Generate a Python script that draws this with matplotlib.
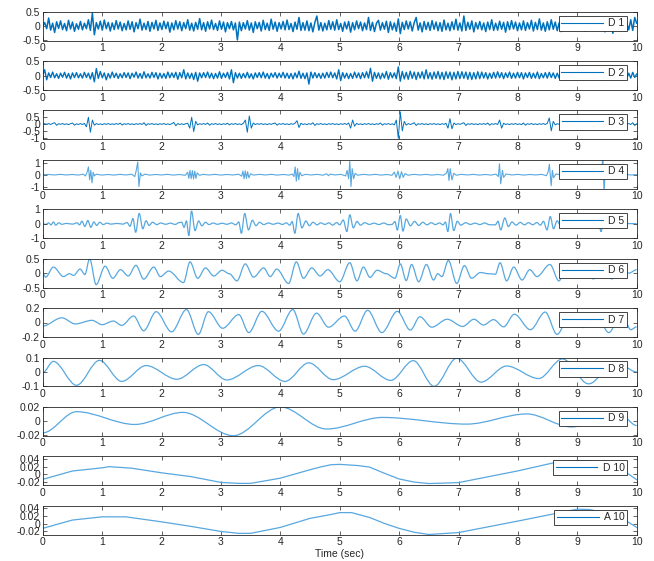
"""Wavelet detail levels D1..D10 and approximation A10 of a 10 s record."""
import numpy as np
import matplotlib
matplotlib.use("Agg")
import matplotlib.pyplot as plt
from matplotlib.path import Path
from matplotlib.patches import PathPatch
from matplotlib.lines import Line2D

# ---- data ---------------------------------------------------------------
# D1..D3: 300 samples over 0..10 s, values in hundredths
D1_CENTI = [
    0, 12, -9, 28, -14, 10, -22, 15, -8, 18, -12, 9, -16, 20, -10, 14, -18, 8, -11, 16,
    -13, 10, -9, 22, -15, 45, -30, 12, -10, 17, -14, 21, -9, 13, -17, 11, -12, 19, -10, 14,
    -16, 9, -13, 18, -11, 15, -20, 12, -9, 24, -14, 10, -12, 16, -18, 13, -10, 20, -15, 11,
    -12, 17, -9, 14, -21, 11, -13, 19, -10, 15, -16, 12, -9, 22, -14, 10, -17, 13, -11, 26,
    -13, 12, -18, 15, -10, 21, -12, 9, -15, 18, -11, 14, -20, 12, -9, 16, -13, 11, -48, 14,
    -16, 12, -10, 19, -14, 11, -22, 15, -9, 13, -17, 20, -12, 10, -15, 24, -11, 14, -18, 12,
    -10, 16, -13, 21, -12, 9, -19, 14, -11, 30, -15, 12, -14, 18, -16, 11, -20, 13, 35, -14,
    12, -17, 10, -13, 19, -11, 15, -14, 22, -12, 9, -18, 14, -10, 16, -21, 12, -13, 18, -9,
    14, -16, 11, -12, 30, -15, 13, -19, 10, 20, -14, 12, -11, 17, -22, 15, -13, 11, -18, 25,
    -26, 13, -12, 18, -10, 15, -17, 12, 30, -14, 11, -20, 16, -12, 13, -15, 19, -11, 14, -16,
    12, -18, 21, -13, 10, -16, 15, -12, 24, -14, 11, -17, 35, -15, 13, -11, 18, -20, 12, -10,
    16, -13, 11, -19, 14, -12, 22, -15, 10, -14, 17, -11, 13, -21, 15, -12, 19, -10, 14, -16,
    11, -13, 18, -15, 12, -10, 20, -17, 13, -12, 25, -14, 11, -18, 15, -13, 22, -11, 14, -16,
    12, -19, 13, -11, 17, -14, 10, -16, 21, -12, 15, -13, 11, -18, 14, -12, 20, -10, 13, -15,
    17, -11, 14, -20, 12, -16, 13, -25, 10, -14, 18, -12, 15, -17, 11, -13, 22, -15, 30, 10,
]
D2_CENTI = [
    0, 20, -15, 9, -7, 12, -8, 6, -10, 8, -6, 11, -9, 7, -12, 9, -7, 10, -8, 6,
    -9, 11, -7, 8, -12, 10, -22, 24, -10, 14, -8, 9, -15, 7, -9, 12, -7, 8, -10, 6,
    -8, 10, -7, 9, -11, 8, -6, 12, -9, 7, -10, 13, -8, 6, -9, 11, -7, 10, -12, 8,
    -9, 7, -10, 12, -8, 9, -7, 11, -13, 10, -8, 20, -12, 9, -10, 8, -14, 11, -20, 9,
    -8, 10, -7, 12, -9, 8, -11, 7, -9, 13, -10, 8, -7, 11, -12, 20, -25, 10, -9, 8,
    -10, 7, -8, 11, -9, 6, -12, 9, -7, 10, -8, 12, -9, 7, -11, 8, -6, 10, -9, 8,
    -7, 11, -9, 8, -10, 7, -12, 9, -8, 15, -10, 8, -11, 9, -30, 12, -9, 10, -8, 7,
    -10, 8, -9, 11, -7, 12, -8, 9, -12, 20, -18, 10, -9, 8, -11, 7, -10, 12, -8, 9,
    -11, 10, -8, 13, -9, 25, -20, 11, -10, 9, -12, 8, -9, 14, -13, 10, -8, 9, -11, 30,
    -20, 14, -12, 11, -13, 15, -10, 12, -14, 11, -9, 13, -12, 20, -11, 10, -13, 12, -10, 14,
    -12, 11, -14, 13, -10, 12, -15, 11, -12, 14, -11, 13, -10, 12, -13, 11, -14, 10, -12, 13,
    -11, 12, -9, 10, -12, 8, -10, 11, -9, 13, -8, 10, -11, 9, -7, 12, -10, 8, -9, 11,
    -8, 10, -12, 9, -7, 11, -10, 8, -9, 12, -11, 7, -8, 10, -9, 11, -7, 9, -10, 8,
    -9, 7, -8, 10, -6, 9, -8, 7, -10, 8, -7, 9, -6, 8, -9, 7, -8, 10, -7, 9,
    -8, 12, -15, 9, -7, 8, -10, 7, -9, 8, -6, 9, -8, 7, -10, 8, -9, 11, -7, 5,
]
D3_CENTI = [
    0, 3, -2, 4, -3, 5, 10, -9, 3, -2, 4, -3, 2, -4, 3, 8, -8, 2, -3, 4,
    -3, 5, -20, 50, -60, 30, -8, 4, -3, 2, -4, 3, -2, 4, -3, 2, -3, 4, -2, 7,
    -7, 3, -2, 4, -3, 2, -4, 3, -2, 4, -3, 10, -10, 3, -2, 4, -3, 2, -4, 3,
    -2, 4, -3, 2, -4, 3, 12, -12, 4, -3, 2, -4, 3, 6, -30, 50, -55, 20, -6, 3,
    -2, 4, -3, 8, -8, 3, -2, 4, -3, 2, -4, 3, -2, 6, -6, 3, -2, 4, -3, 2,
    -4, 6, 30, -60, 60, -30, 8, -4, 3, -2, 4, -3, 2, -4, 3, -2, 4, 8, -8, 3,
    -2, 4, -3, 2, -4, 3, -2, 6, 25, -25, 6, -3, 2, -4, 3, -2, 10, -10, 3, -2,
    4, -3, 2, -4, 3, -2, 4, -3, 2, -4, 3, -2, 4, -3, 8, -30, 30, -15, 5, -3,
    2, -4, 3, -2, 4, -3, 2, -4, 3, -2, 8, -8, 3, -2, 4, -3, 2, -6, 30, -105,
    90, -50, 20, -8, 4, -3, 2, 10, -10, 3, -2, 4, -3, 2, -4, 3, -2, 4, -3, 2,
    -4, 3, -2, 6, -30, 40, -35, 8, -4, 3, -2, 4, 10, -10, 3, -2, 4, -3, 2, -4,
    3, -2, 4, -3, 8, -8, 3, -2, 4, -3, 30, -30, 6, -3, 2, -4, 3, -2, 4, -3,
    2, -4, 8, -8, 3, -2, 4, -3, 2, -4, 3, -2, 4, -3, 6, 45, -50, 20, -6, 3,
    -2, 4, -3, 2, -4, 3, -2, 4, -3, 2, -4, 3, -2, 4, -3, 2, -4, 3, -2, 4,
    -6, 40, -40, 8, -3, 2, -4, 3, -2, 4, -3, 2, -4, 3, -2, 4, -3, 10, -10, 2,
]

# D4: knots (time, value)
D4_T = [0.00, 0.10, 0.20, 0.30, 0.40, 0.50, 0.60, 0.68, 0.72, 0.75, 0.77, 0.79, 0.81,
        0.83, 0.85, 0.87, 0.90, 1.00, 1.10, 1.20, 1.30, 1.40, 1.50, 1.55, 1.575, 1.60,
        1.62, 1.645, 1.67, 1.72, 1.80, 1.90, 2.00, 2.10, 2.20, 2.30, 2.40, 2.44, 2.46,
        2.48, 2.50, 2.52, 2.54, 2.56, 2.58, 2.60, 2.64, 2.70, 2.80, 2.90, 3.00, 3.10,
        3.20, 3.30, 3.35, 3.37, 3.39, 3.41, 3.43, 3.45, 3.47, 3.50, 3.55, 3.65, 3.75,
        3.85, 3.95, 4.05, 4.15, 4.20, 4.23, 4.25, 4.27, 4.29, 4.31, 4.33, 4.36, 4.42,
        4.52, 4.62, 4.72, 4.78, 4.81, 4.84, 4.92, 5.02, 5.10, 5.125, 5.15, 5.17, 5.19,
        5.21, 5.235, 5.26, 5.30, 5.40, 5.50, 5.60, 5.70, 5.80, 5.88, 5.92, 5.95, 5.98,
        6.01, 6.04, 6.07, 6.10, 6.15, 6.25, 6.35, 6.45, 6.55, 6.65, 6.75, 6.80, 6.82,
        6.84, 6.86, 6.89, 6.92, 6.96, 7.05, 7.15, 7.25, 7.35, 7.45, 7.55, 7.63, 7.67,
        7.69, 7.71, 7.74, 7.76, 7.80, 7.90, 8.00, 8.10, 8.20, 8.30, 8.40, 8.48, 8.51,
        8.53, 8.56, 8.58, 8.60, 8.64, 8.75, 8.85, 8.95, 9.05, 9.15, 9.25, 9.35, 9.41,
        9.43, 9.45, 9.47, 9.50, 9.60, 9.70, 9.80, 9.90, 10.00]
D4_V = [0.00, 0.02, -0.02, 0.03, -0.02, 0.02, -0.03, 0.05, -0.10, 0.25, 0.64, -0.42, 0.36,
        -0.67, 0.20, -0.10, 0.04, -0.03, 0.02, -0.03, 0.03, -0.02, 0.04, -0.15, 0.36, 1.05,
        -0.97, 0.15, -0.10, 0.05, -0.03, 0.02, -0.02, 0.03, -0.03, 0.02, -0.05, 0.20, -0.30,
        0.36, -0.33, 0.34, -0.35, 0.30, -0.30, 0.15, -0.05, 0.03, -0.02, 0.03, -0.03, 0.02,
        -0.02, 0.04, -0.12, 0.30, -0.33, 0.32, -0.30, 0.25, -0.25, 0.08, -0.03, 0.03, -0.02,
        0.03, -0.03, 0.02, -0.03, 0.06, -0.15, 0.64, -0.53, 0.50, -0.42, 0.20, -0.08, 0.03,
        -0.02, 0.03, -0.04, 0.08, -0.08, 0.05, -0.02, 0.03, -0.10, 0.36, -0.33, 1.10, -0.97,
        0.50, -0.33, 0.12, -0.04, 0.03, -0.02, 0.03, -0.03, 0.02, -0.05, 0.22, -0.22, 0.30,
        -0.33, 0.25, -0.22, 0.10, -0.04, 0.03, -0.02, 0.03, -0.03, 0.02, -0.04, 0.15, 0.50,
        -0.47, 0.50, -0.42, 0.12, -0.04, 0.03, -0.02, 0.03, -0.03, 0.02, -0.03, 0.05, -0.15,
        0.90, -0.75, 0.36, -0.22, 0.06, -0.02, 0.03, -0.03, 0.02, -0.02, 0.03, -0.08, 0.25,
        0.86, -0.90, 0.36, -0.25, 0.06, -0.03, 0.02, -0.02, 0.03, -0.02, 0.03, -0.04, 0.30,
        1.50, -1.50, 0.30, -0.05, 0.03, -0.02, 0.03, -0.02, 0.01]

# D5..D9: local extrema (time, value)
D5_T = [0.00, 0.05, 0.10, 0.14, 0.18, 0.22, 0.27, 0.32, 0.40, 0.50, 0.58, 0.62, 0.66, 0.71,
        0.76, 0.81, 0.86, 0.91, 0.96, 1.02, 1.08, 1.15, 1.25, 1.35, 1.42, 1.47, 1.52, 1.565,
        1.625, 1.685, 1.74, 1.79, 1.85, 1.92, 1.99, 2.07, 2.15, 2.23, 2.30, 2.34, 2.38, 2.42,
        2.46, 2.505, 2.565, 2.625, 2.68, 2.74, 2.80, 2.87, 2.94, 3.02, 3.10, 3.18, 3.25, 3.30,
        3.345, 3.40, 3.465, 3.53, 3.59, 3.65, 3.72, 3.80, 3.88, 3.96, 4.04, 4.10, 4.16, 4.20,
        4.245, 4.30, 4.365, 4.43, 4.49, 4.55, 4.62, 4.68, 4.75, 4.82, 4.88, 4.95, 5.00, 5.06,
        5.12, 5.17, 5.23, 5.29, 5.35, 5.42, 5.50, 5.58, 5.66, 5.74, 5.82, 5.88, 5.93, 5.97,
        6.02, 6.065, 6.12, 6.19, 6.26, 6.33, 6.40, 6.47, 6.54, 6.61, 6.68, 6.74, 6.78, 6.82,
        6.865, 6.92, 6.98, 7.04, 7.12, 7.20, 7.28, 7.36, 7.44, 7.52, 7.62, 7.665, 7.71, 7.78,
        7.84, 7.90, 7.97, 8.04, 8.11, 8.18, 8.25, 8.32, 8.38, 8.43, 8.49, 8.545, 8.60, 8.66,
        8.72, 8.80, 8.90, 9.00, 9.10, 9.20, 9.30, 9.35, 9.40, 9.45, 9.50, 9.58, 9.70, 9.85,
        10.00]
D5_V = [0.00, -0.05, 0.05, -0.08, 0.12, -0.10, 0.06, -0.04, 0.02, -0.03, 0.06, -0.08, 0.17,
        -0.19, 0.22, -0.25, 0.12, -0.12, 0.10, -0.06, 0.04, -0.03, 0.02, -0.03, 0.08, -0.18,
        0.36, -0.60, 0.71, -0.35, 0.20, -0.12, 0.10, -0.06, 0.05, -0.04, 0.04, -0.05, 0.08,
        0.10, -0.25, 0.20, -0.83, 0.88, -0.48, 0.19, -0.15, 0.10, -0.06, 0.05, -0.04, 0.03,
        -0.04, 0.05, -0.08, 0.12, -0.67, 0.71, -0.43, 0.24, -0.14, 0.10, -0.06, 0.05, -0.04,
        0.04, -0.05, 0.06, -0.10, 0.15, -0.67, 0.71, -0.29, 0.19, -0.14, 0.10, -0.08, 0.06,
        -0.05, 0.06, -0.10, 0.08, -0.08, 0.26, -0.55, 0.62, -0.29, 0.16, -0.10, 0.07, -0.05,
        0.04, -0.06, 0.05, -0.07, -0.05, 0.15, -0.45, 0.57, -0.52, 0.33, -0.15, 0.16, -0.12,
        0.10, -0.08, 0.07, -0.06, 0.05, -0.08, 0.12, -0.55, 0.71, -0.48, 0.17, -0.10, 0.07,
        -0.05, 0.04, -0.06, 0.05, -0.07, -0.08, 0.17, -0.43, 0.40, -0.20, 0.12, -0.10, 0.09,
        -0.08, 0.07, -0.07, 0.08, -0.10, 0.17, -0.43, 0.50, -0.35, 0.20, -0.12, 0.08, -0.05,
        0.04, -0.04, 0.05, -0.10, 0.25, -0.55, 0.40, -0.10, 0.03, -0.02, 0.01, 0.00]
D6_T = [0.00, 0.05, 0.18, 0.35, 0.45, 0.52, 0.63, 0.71, 0.79, 0.90, 1.05, 1.18, 1.31, 1.44,
        1.57, 1.70, 1.87, 1.98, 2.12, 2.37, 2.48, 2.61, 2.74, 2.88, 3.02, 3.14, 3.27, 3.41,
        3.55, 3.72, 3.83, 3.94, 4.14, 4.27, 4.39, 4.53, 4.67, 4.80, 5.00, 5.17, 5.29, 5.40,
        5.51, 5.63, 5.78, 5.93, 6.02, 6.12, 6.21, 6.33, 6.46, 6.58, 6.65, 6.72, 6.83, 6.97,
        7.10, 7.22, 7.37, 7.50, 7.62, 7.70, 7.81, 7.93, 8.07, 8.20, 8.32, 8.54, 8.69, 8.82,
        8.95, 9.10, 9.27, 9.42, 9.58, 9.75, 9.87, 10.00]
D6_V = [0.00, -0.14, 0.21, -0.12, -0.02, -0.08, 0.14, -0.05, 0.50, -0.40, 0.24, -0.18, 0.12,
        -0.10, 0.27, -0.21, 0.21, -0.12, 0.07, -0.33, 0.39, -0.18, 0.18, -0.10, 0.10, -0.02,
        -0.27, 0.32, -0.14, 0.18, -0.12, 0.14, -0.36, 0.39, -0.18, 0.18, -0.10, 0.12, -0.30,
        0.36, -0.27, 0.21, -0.15, 0.10, -0.02, -0.18, 0.32, -0.26, 0.30, -0.30, 0.30, -0.24,
        -0.02, -0.12, 0.44, -0.36, 0.26, -0.18, 0.02, -0.02, -0.04, 0.36, -0.27, 0.21, -0.24,
        0.12, -0.12, 0.30, -0.27, 0.20, -0.15, 0.15, -0.20, 0.15, -0.20, 0.05, 0.00, 0.12]
D7_T = [0.00, 0.32, 0.55, 0.83, 1.00, 1.19, 1.33, 1.53, 1.70, 1.91, 2.17, 2.42, 2.62, 2.79,
        3.03, 3.30, 3.47, 3.69, 3.97, 4.21, 4.39, 4.61, 4.81, 5.08, 5.26, 5.47, 5.71, 5.97,
        6.19, 6.35, 6.55, 6.81, 7.07, 7.26, 7.42, 7.59, 7.76, 7.94, 8.21, 8.46, 8.66, 8.88,
        9.10, 9.32, 9.53, 9.75, 9.90, 10.00]
D7_V = [-0.05, 0.065, -0.02, 0.03, -0.03, 0.02, -0.04, 0.09, -0.115, 0.15, -0.13, 0.18,
        -0.165, 0.15, -0.08, 0.11, -0.14, 0.155, -0.12, 0.18, -0.16, 0.13, -0.065, 0.09,
        -0.12, 0.17, -0.14, 0.155, -0.105, 0.08, -0.065, 0.045, -0.055, 0.045, -0.035, 0.04,
        -0.06, 0.115, -0.10, 0.145, -0.165, 0.12, -0.07, 0.10, -0.14, 0.13, -0.10, -0.06]
D8_T = [0.00, 0.18, 0.57, 0.955, 1.33, 1.74, 2.26, 2.71, 3.10, 3.63, 4.08, 4.48, 4.89, 5.42,
        5.86, 6.24, 6.59, 6.97, 7.38, 7.81, 8.35, 8.75, 9.19, 9.65, 10.00]
D8_V = [-0.005, 0.073, -0.093, 0.08, -0.066, 0.044, -0.051, 0.051, -0.056, 0.044, -0.066,
        0.063, -0.054, 0.039, -0.059, 0.078, -0.10, 0.095, -0.071, 0.041, -0.046, 0.09,
        -0.083, 0.07, 0.00]
D9_T = [0.00, 0.57, 1.55, 2.36, 3.21, 4.00, 4.78, 5.72, 7.14, 8.15, 8.90, 9.70, 10.00]
D9_V = [-0.0165, 0.0137, -0.0045, 0.0127, -0.0205, 0.0205, -0.011, 0.0055, -0.004, 0.0105,
        -0.008, 0.012, -0.006]

# D10 and A10: sampled points
D10_T = [0.0, 0.5, 1.0, 1.12, 1.5, 2.0, 2.5, 3.0, 3.3, 3.5, 4.0, 4.5, 4.7, 4.85, 5.0, 5.3,
         5.5, 5.75, 6.0, 6.25, 6.5, 7.0, 8.0, 8.6, 9.0, 9.2, 9.5, 9.85, 10.0]
D10_V = [-0.013, 0.0087, 0.017, 0.020, 0.016, 0.004, -0.006, -0.021, -0.0235, -0.0235,
         -0.010, 0.012, 0.020, 0.025, 0.026, 0.023, 0.019, 0.003, -0.012, -0.020, -0.024,
         -0.0215, 0.009, 0.030, 0.036, 0.035, 0.022, 0.002, -0.014]
A10_T = [0.0, 0.5, 1.0, 1.4, 2.0, 2.5, 3.0, 3.3, 3.5, 4.0, 4.5, 4.85, 5.0, 5.2, 5.5, 5.75,
         6.0, 6.25, 6.5, 7.0, 8.0, 9.0, 9.2, 9.5, 9.85, 10.0]
A10_V = [-0.012, 0.0096, 0.018, 0.018, 0.005, -0.007, -0.020, -0.025, -0.025, -0.0096,
         0.014, 0.024, 0.029, 0.029, 0.0165, 0.001, -0.012, -0.022, -0.028, -0.023, 0.007,
         0.038, 0.037, 0.028, 0.005, -0.0096]

LABELS = ["D 1", "D 2", "D 3", "D 4", "D 5", "D 6", "D 7", "D 8", "D 9", "D 10", "A 10"]
YLIMS = [(-0.5, 0.5), (-0.5, 0.5), (-1.12, 1.0), (-1.15, 1.22), (-1.0, 1.0), (-0.5, 0.5),
         (-0.2, 0.2), (-0.1, 0.1), (-0.0205, 0.0205), (-0.028, 0.047), (-0.028, 0.047)]
YTICKS = [[-0.5, 0, 0.5], [-0.5, 0, 0.5], [-1, -0.5, 0, 0.5], [-1, 0, 1], [-1, 0, 1],
          [-0.5, 0, 0.5], [-0.2, 0, 0.2], [-0.1, 0, 0.1], [-0.02, 0, 0.02],
          [-0.02, 0, 0.02, 0.04], [-0.02, 0, 0.02, 0.04]]
YTICKLABELS = [["-0.5", "0", "0.5"], ["-0.5", "0", "0.5"], ["-1", "-0.5", "0", "0.5"],
               ["-1", "0", "1"], ["-1", "0", "1"], ["-0.5", "0", "0.5"],
               ["-0.2", "0", "0.2"], ["-0.1", "0", "0.1"], ["-0.02", "0", "0.02"],
               ["-0.02", "0", "0.02", "0.04"], ["-0.02", "0", "0.02", "0.04"]]

DARK = "#0072BD"
LIGHT = "#58a8df"
AXC = "#262626"


def smooth_path(ts, vs):
    # cubic segments between extrema, flat tangents at each extremum
    verts = [(ts[0], vs[0])]
    codes = [Path.MOVETO]
    for t0, v0, t1, v1 in zip(ts[:-1], vs[:-1], ts[1:], vs[1:]):
        d = (t1 - t0) / 3.0
        verts += [(t0 + d, v0), (t1 - d, v1), (t1, v1)]
        codes += [Path.CURVE4] * 3
    return Path(verts, codes)


plt.rcParams["font.family"] = ["Liberation Sans", "DejaVu Sans"]
plt.rcParams["axes.unicode_minus"] = False
FS = 7.5

fig = plt.figure(figsize=(6.54, 5.61), dpi=100)
W, H = 654.0, 561.0
axes = []
for k in range(11):
    top = 11.7 + 49.4 * k
    ax = fig.add_axes([42.7 / W, 1 - (top + 28.8) / H, 594.0 / W, 28.8 / H])
    axes.append(ax)

t_grid = np.linspace(0, 10, len(D1_CENTI))
for ax, d, lw in zip(axes[:3], [D1_CENTI, D2_CENTI, D3_CENTI], [1.1, 1.0, 0.7]):
    ax.plot(t_grid, np.array(d) / 100.0, color=DARK, lw=lw)
axes[3].plot(D4_T, D4_V, color=LIGHT, lw=0.8)
for ax, ts, vs in zip(axes[4:9], [D5_T, D6_T, D7_T, D8_T, D9_T],
                      [D5_V, D6_V, D7_V, D8_V, D9_V]):
    ax.add_patch(PathPatch(smooth_path(ts, vs), fill=False, edgecolor=LIGHT, lw=0.9))
axes[9].plot(D10_T, D10_V, color=LIGHT, lw=0.9)
axes[10].plot(A10_T, A10_V, color=LIGHT, lw=0.9)

for k, ax in enumerate(axes):
    ax.set_xlim(0, 10)
    ax.set_ylim(*YLIMS[k])
    ax.set_xticks(range(11))
    ax.set_yticks(YTICKS[k])
    ax.set_yticklabels(YTICKLABELS[k])
    ax.tick_params(direction="in", top=True, right=True, length=3, width=0.5,
                   colors=AXC, labelsize=FS, pad=2)
    for s in ax.spines.values():
        s.set_linewidth(0.6)
        s.set_color(AXC)
    h = Line2D([], [], color=DARK, lw=0.8)
    leg = ax.legend([h], [LABELS[k]], loc="center right", bbox_to_anchor=(0.984, 0.6),
                    fontsize=FS, fancybox=False, edgecolor=AXC, framealpha=1,
                    borderpad=0.25, handlelength=4.0, handletextpad=0.5,
                    borderaxespad=0.0)
    leg.get_frame().set_linewidth(0.6)
    for txt in leg.get_texts():
        txt.set_color(AXC)

axes[-1].set_xlabel("Time (sec)", fontsize=FS, color=AXC, labelpad=1)

fig.savefig("out.png", dpi=100)
